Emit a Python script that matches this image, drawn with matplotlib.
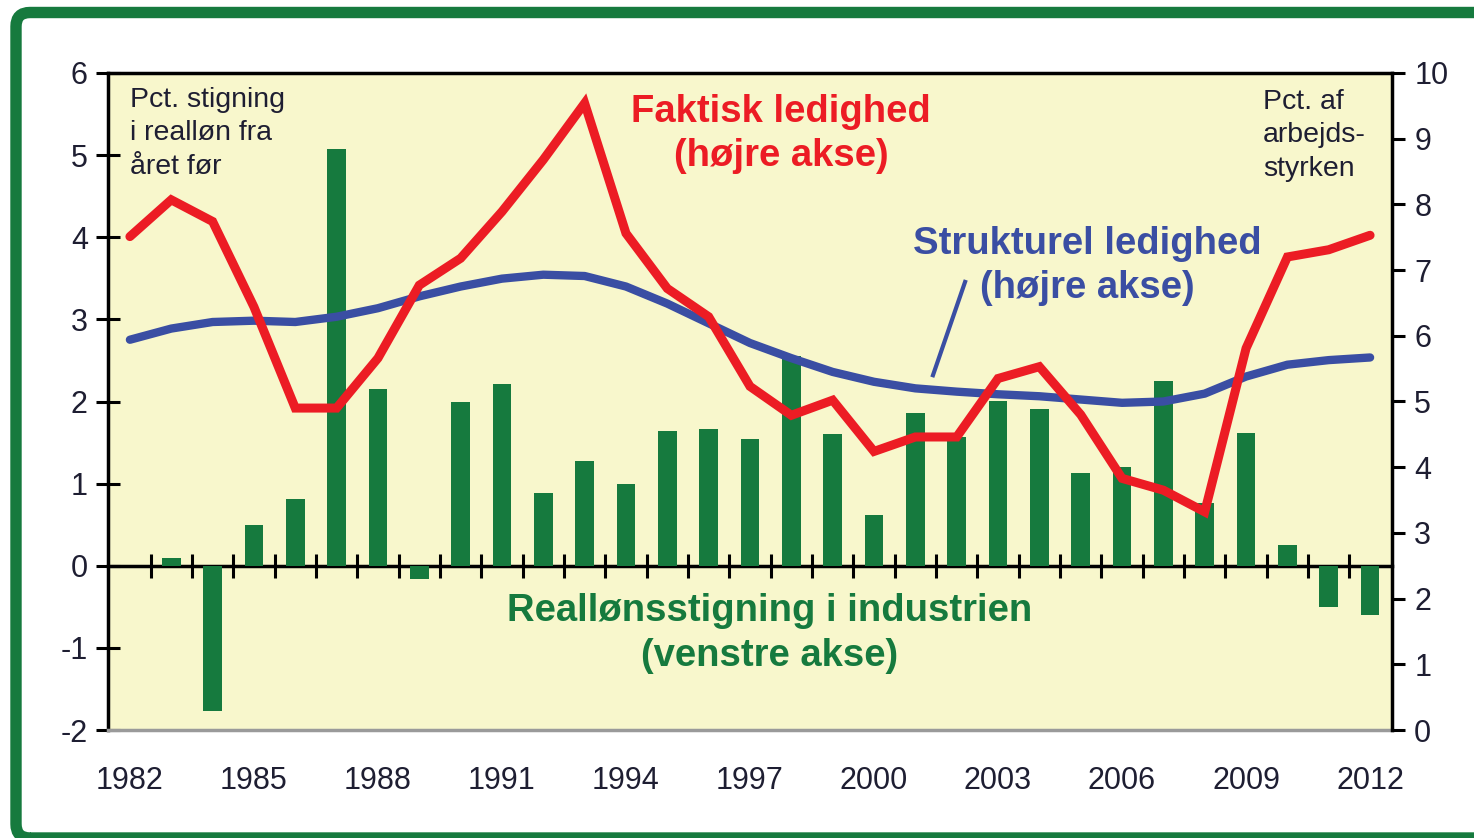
"""
Reallønsstigning og ledighed 1982-2012
"""

import numpy as np
import matplotlib
matplotlib.use('Agg')
import matplotlib.pyplot as plt
from matplotlib.patches import FancyBboxPatch
from matplotlib.transforms import IdentityTransform

plt.rcParams['font.family'] = ['Liberation Sans', 'DejaVu Sans']
plt.rcParams['axes.unicode_minus'] = False

# Data
years = list(range(1982, 2013))
wage_years = list(range(1983, 2013))
real_wage_growth = [0.10, -1.77, 0.50, 0.81, 5.07, 2.15, -0.16, 1.99, 2.21, 0.88,
                    1.28, 1.00, 1.64, 1.67, 1.54, 2.56, 1.60, 0.62, 1.86, 1.57,
                    2.01, 1.91, 1.13, 1.20, 2.25, 0.76, 1.62, 0.25, -0.50, -0.60]
actual_unemp = [7.51, 8.07, 7.74, 6.44, 4.90, 4.90, 5.66, 6.77, 7.18, 7.89,
                8.68, 9.54, 7.56, 6.72, 6.29, 5.23, 4.79, 5.02, 4.24, 4.46,
                4.46, 5.35, 5.53, 4.80, 3.83, 3.65, 3.32, 5.81, 7.20, 7.31, 7.53]
struct_unemp = [5.94, 6.11, 6.21, 6.23, 6.21, 6.29, 6.42, 6.60, 6.75, 6.87,
                6.93, 6.91, 6.75, 6.49, 6.19, 5.89, 5.66, 5.45, 5.30, 5.20,
                5.15, 5.11, 5.08, 5.03, 4.98, 5.00, 5.12, 5.38, 5.56, 5.63, 5.67]
year_labels = [1982, 1985, 1988, 1991, 1994, 1997, 2000, 2003, 2006, 2009, 2012]

# Colours
GREEN = '#167A3E'
RED = '#EC1C24'
BLUE = '#3A4EA3'
BG = '#F8F7CC'
TXT = '#1E1E32'

fig = plt.figure(figsize=(14.74, 8.38), dpi=100)
ax = fig.add_axes([108 / 1474, 108 / 838, 1284 / 1474, 657 / 838])
ax.set_facecolor(BG)

# Bars (left axis)
ax.bar(wage_years, real_wage_growth, width=0.45, color=GREEN, zorder=2)
ax.set_xlim(1981.47, 2012.53)
ax.set_ylim(-2, 6)
ax.set_yticks(range(-2, 7))
ax.set_xticks(year_labels)
ax.tick_params(axis='x', length=0, pad=26, labelsize=22, labelcolor=TXT)
ax.tick_params(axis='y', direction='inout', length=17, width=2.2,
               labelsize=22, labelcolor=TXT, pad=6)
for side in ['left', 'top']:
    ax.spines[side].set_linewidth(2.5)
ax.spines['bottom'].set_color('#9A9A9A')
ax.spines['bottom'].set_linewidth(2.5)
ax.spines['right'].set_visible(False)

# Zero line with year-boundary ticks
zero = ax.secondary_xaxis(0.25)
zero.set_xticks(np.arange(1982.5, 2012, 1.0))
zero.tick_params(direction='inout', length=17, width=2.2, labelbottom=False)
zero.spines['bottom'].set_linewidth(2.5)

# Lines (right axis)
ax2 = ax.twinx()
ax2.set_ylim(0, 10)
ax2.set_yticks(range(0, 11))
ax2.plot(years, struct_unemp, color=BLUE, linewidth=6, solid_capstyle='round',
         solid_joinstyle='round', zorder=3)
ax2.plot(years, actual_unemp, color=RED, linewidth=6.5, solid_capstyle='round',
         solid_joinstyle='miter', zorder=4)
ax2.tick_params(axis='y', direction='out', length=9, width=2.2,
                labelsize=22, labelcolor=TXT, pad=7)
ax2.spines['right'].set_linewidth(2.5)
for side in ['left', 'top', 'bottom']:
    ax2.spines[side].set_visible(False)

# Annotations
ax2.text(0.017, 0.979, 'Pct. stigning\ni realløn fra\nåret før', transform=ax.transAxes,
         ha='left', va='top', fontsize=20.5, color=TXT, linespacing=1.38)
ax2.text(0.8995, 0.976, 'Pct. af\narbejds-\nstyrken', transform=ax.transAxes,
         ha='left', va='top', fontsize=20.5, color=TXT, linespacing=1.38)
ax2.text(0.524, 0.907, 'Faktisk ledighed\n(højre akse)', transform=ax.transAxes,
         ha='center', va='center', fontsize=27.5, fontweight='bold', color=RED,
         linespacing=1.3)
ax2.text(0.7625, 0.706, 'Strukturel ledighed\n(højre akse)', transform=ax.transAxes,
         ha='center', va='center', fontsize=27.5, fontweight='bold', color=BLUE,
         linespacing=1.3)
ax2.text(0.5156, 0.147, 'Reallønsstigning i industrien\n(venstre akse)',
         transform=ax.transAxes, ha='center', va='center', fontsize=27.5,
         fontweight='bold', color=GREEN, linespacing=1.3)
ax2.plot([0.6425, 0.6675], [0.540, 0.682], transform=ax.transAxes,
         color=BLUE, linewidth=3, zorder=5)

# Green frame
frame = FancyBboxPatch((16, 0), 1520, 825.5, boxstyle='round,pad=0,rounding_size=14',
                       transform=IdentityTransform(), facecolor='none',
                       edgecolor=GREEN, linewidth=8.2)
fig.add_artist(frame)

fig.savefig('out.png', dpi=100)
